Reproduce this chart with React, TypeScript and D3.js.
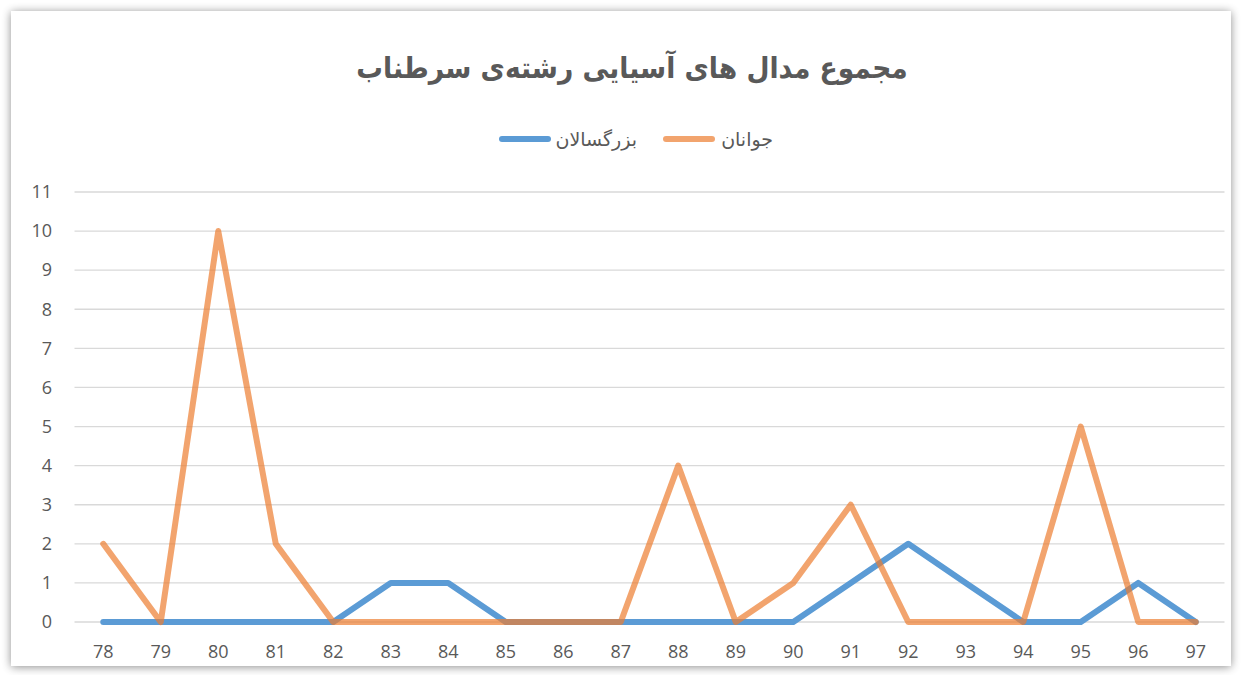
import React, { useEffect, useRef } from "react";
import * as d3 from "d3";

// data
const years = ["78", "79", "80", "81", "82", "83", "84", "85", "86", "87", "88", "89", "90", "91", "92", "93", "94", "95", "96", "97"];
const adults = [0, 0, 0, 0, 0, 1, 1, 0, 0, 0, 0, 0, 0, 1, 2, 1, 0, 0, 1, 0];
const juniors = [2, 0, 10, 2, 0, 0, 0, 0, 0, 0, 4, 0, 1, 3, 0, 0, 0, 5, 0, 0];
const yTicks = [0, 1, 2, 3, 4, 5, 6, 7, 8, 9, 10, 11];

const titleText = "مجموع مدال های آسیایی رشته‌ی سرطناب";
const adultsName = "بزرگسالان";
const juniorsName = "جوانان";

const W = 1242;
const H = 675;

const App = () => {
  const ref = useRef<SVGSVGElement | null>(null);

  useEffect(() => {
    const svg = d3.select(ref.current);
    svg.selectAll("*").remove();

    const defs = svg.append("defs");
    const f = defs.append("filter").attr("id", "shadow").attr("x", "-5%").attr("y", "-5%").attr("width", "110%").attr("height", "110%");
    f.append("feGaussianBlur").attr("in", "SourceAlpha").attr("stdDeviation", 5);
    f.append("feOffset").attr("dx", 0).attr("dy", 1).attr("result", "b");
    f.append("feComponentTransfer").append("feFuncA").attr("type", "linear").attr("slope", 0.45);
    const m = f.append("feMerge");
    m.append("feMergeNode");
    m.append("feMergeNode").attr("in", "SourceGraphic");

    // chart frame
    svg.append("rect").attr("width", W).attr("height", H).attr("fill", "#ffffff");
    svg
      .append("rect")
      .attr("x", 11)
      .attr("y", 11)
      .attr("width", W - 22)
      .attr("height", H - 20)
      .attr("fill", "#ffffff")
      .attr("filter", "url(#shadow)");

    const left = 74.5;
    const right = 1224.5;
    const top = 192;
    const bottom = 622;

    const x = d3.scaleBand().domain(years).range([left, right]);
    const y = d3.scaleLinear().domain([0, 11]).range([bottom, top]);
    const cx = (d: string) => (x(d) ?? 0) + x.bandwidth() / 2;

    const textColor = "#595959";

    // gridlines
    svg
      .append("g")
      .selectAll("line")
      .data(yTicks)
      .enter()
      .append("line")
      .attr("x1", left)
      .attr("x2", right)
      .attr("y1", (d) => y(d))
      .attr("y2", (d) => y(d))
      .attr("stroke", "#d9d9d9")
      .attr("stroke-width", 1.3);

    // y labels
    svg
      .append("g")
      .selectAll("text")
      .data(yTicks)
      .enter()
      .append("text")
      .attr("x", 52)
      .attr("y", (d) => y(d))
      .attr("dy", "0.35em")
      .attr("text-anchor", "end")
      .attr("fill", textColor)
      .style("font-family", "'Open Sans', 'Segoe UI', sans-serif")
      .style("font-size", "18px")
      .text((d) => d);

    // x labels
    svg
      .append("g")
      .selectAll("text")
      .data(years)
      .enter()
      .append("text")
      .attr("x", (d) => cx(d))
      .attr("y", 652)
      .attr("dy", "0.35em")
      .attr("text-anchor", "middle")
      .attr("fill", textColor)
      .style("font-family", "'Open Sans', 'Segoe UI', sans-serif")
      .style("font-size", "18px")
      .text((d) => d);

    const line = d3
      .line<number>()
      .x((_, i) => cx(years[i]))
      .y((d) => y(d));

    svg
      .append("path")
      .datum(adults)
      .attr("d", line)
      .attr("fill", "none")
      .attr("stroke", "#5b9bd5")
      .attr("stroke-width", 6)
      .attr("stroke-linejoin", "round")
      .attr("stroke-linecap", "round");

    svg
      .append("path")
      .datum(juniors)
      .attr("d", line)
      .attr("fill", "none")
      .attr("stroke", "#ed7d31")
      .attr("stroke-opacity", 0.7)
      .attr("stroke-width", 6)
      .attr("stroke-linejoin", "round")
      .attr("stroke-linecap", "round");

    // title
    svg
      .append("text")
      .attr("x", 632)
      .attr("y", 68)
      .attr("dy", "0.35em")
      .attr("text-anchor", "middle")
      .attr("fill", textColor)
      .style("font-family", "'DejaVu Sans Condensed', 'DejaVu Sans', sans-serif")
      .style("font-weight", "bold")
      .style("font-size", "29.5px")
      .attr("direction", "rtl")
      .text(titleText);

    // legend
    const legend = [
      { name: juniorsName, color: "#ed7d31", opacity: 0.7, x0: 663, tx: 773 },
      { name: adultsName, color: "#5b9bd5", opacity: 1, x0: 499, tx: 637 },
    ];
    const lg = svg.append("g");
    legend.forEach((l) => {
      lg.append("line")
        .attr("x1", l.x0 + 3)
        .attr("x2", l.x0 + 49)
        .attr("y1", 139)
        .attr("y2", 139)
        .attr("stroke", l.color)
        .attr("stroke-opacity", l.opacity)
        .attr("stroke-width", 6)
        .attr("stroke-linecap", "round");
      lg.append("text")
        .attr("x", l.tx)
        .attr("y", 139)
        .attr("dy", "0.35em")
        .attr("text-anchor", "start")
        .attr("direction", "rtl")
        .attr("fill", textColor)
        .style("font-family", "'DejaVu Sans', sans-serif")
        .style("font-size", "19px")
        .text(l.name);
    });
  }, []);

  return (
    <div style={{ position: "fixed", left: 0, top: 0, width: W, height: H }}>
      <svg ref={ref} width={W} height={H} style={{ display: "block" }} />
    </div>
  );
};

export default App;
